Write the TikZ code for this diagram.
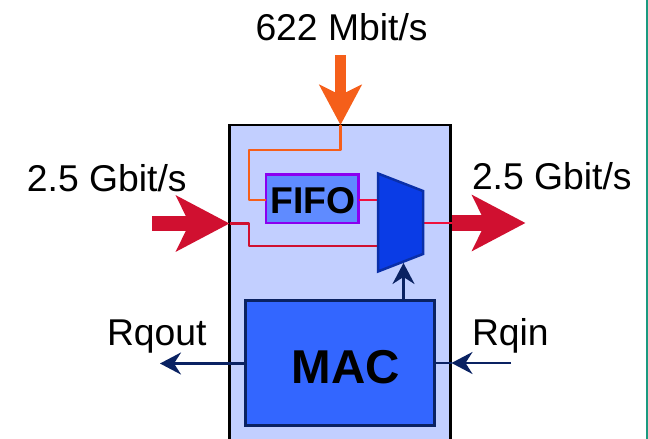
\documentclass[tikz,border=0pt]{standalone}
\usepackage{fontspec}
\setmainfont{Liberation Sans}
\usetikzlibrary{arrows.meta}
\definecolor{boxfill}{HTML}{C2CFFF}
\definecolor{fifofill}{HTML}{5F8BFF}
\definecolor{fifoedge}{HTML}{8B00F0}
\definecolor{muxfill}{HTML}{0A3CE6}
\definecolor{muxedge}{HTML}{0A2FA8}
\definecolor{macfill}{HTML}{3366FF}
\definecolor{navyline}{HTML}{0A2262}
\definecolor{orangeline}{HTML}{F55F1A}
\definecolor{redline}{HTML}{D01030}
\definecolor{brightred}{HTML}{F0103C}
\definecolor{tealline}{HTML}{1A9A80}
\tikzset{
  label37/.style={inner sep=0pt,outer sep=0pt,anchor=base west,font=\fontsize{37.3}{40}\selectfont},
  fatred/.style={draw=redline,line width=15.5pt,-{Stealth[length=53pt,width=55pt,inset=13pt]}},
  fatorange/.style={draw=orangeline,line width=11pt,-{Stealth[length=40pt,width=42pt,inset=10pt]}},
  thinnavy/.style={draw=navyline,line width=2.5pt,-{Stealth[length=21pt,width=22pt,inset=7pt]}},
  plainnavy/.style={draw=navyline,line width=2.5pt},
  orangewire/.style={draw=orangeline,line width=2.6pt,line join=round},
  redwire/.style={draw=redline,line width=2.6pt,line join=round},
  brightwire/.style={draw=brightred,line width=2.6pt},
}
\begin{document}
\begin{tikzpicture}[x=1pt,y=-1pt]
\useasboundingbox (0,0) rectangle (648,439);
\fill[white] (0,0) rectangle (648,439);
\clip (0,0) rectangle (648,439);
\draw[tealline,line width=2pt] (647,0) -- (647,439);
% outer block
\node[draw=black,fill=boxfill,line width=2.5pt,minimum width=221pt,minimum height=320pt,inner sep=0pt] (block) at (340,285) {};
% coordinates
\coordinate (topstart) at (340.5,55);
\coordinate (toptip) at (340.5,125);
\coordinate (leftstart) at (152,223.5);
\coordinate (lefttip) at (229.5,223.5);
\coordinate (rightstart) at (452,223);
\coordinate (righttip) at (525.5,223);
\coordinate (muxa) at (378,173.5);
\coordinate (muxb) at (423,191);
\coordinate (muxc) at (423,254);
\coordinate (muxd) at (378,271.5);
\coordinate (muxinA) at (378,200);
\coordinate (muxinB) at (378,246);
\coordinate (muxout) at (423,223);
\coordinate (muxctl) at (403.5,263);
\coordinate (fifoinO) at (266,200);
\coordinate (fifooutO) at (358.5,200);
\coordinate (macup) at (403.5,301);
\coordinate (macright) at (434.5,363);
\coordinate (macleft) at (245.5,363.5);
\coordinate (rqinstart) at (511,363);
\coordinate (rqintip) at (451.5,363);
\coordinate (rqouttip) at (160,363.5);
% blocks
\node[draw=fifoedge,fill=fifofill,line width=2.5pt,minimum width=92.5pt,minimum height=48.5pt,inner sep=0pt] (fifo) at (312.25,198.5) {};
\node[inner sep=0pt,anchor=base west,font=\fontsize{37.3}{40}\selectfont\bfseries] (fifotext) at (270.5,213) {FIFO};
\node[draw=navyline,fill=macfill,line width=2.5pt,minimum width=189pt,minimum height=125pt,inner sep=0pt] (mac) at (340,363) {};
\node[inner sep=0pt,anchor=base west,font=\fontsize{47.5}{50}\selectfont\bfseries] (mactext) at (291.5,383) {MAC};
% wires
\draw[orangewire] (toptip) -- (340.5,150) -- (249,150) -- (249,200) -- (fifoinO);
\draw[redwire] (lefttip) -- (249,223.5) -- (249,246) -- (muxinB);
\draw[brightwire] (fifooutO) -- (muxinA);
\draw[brightwire] (muxout) -- (block.east |- muxout);
% mux
\draw[draw=muxedge,fill=muxfill,line width=2.5pt,line join=miter] (muxa) -- (muxb) -- (muxc) -- (muxd) -- cycle;
% arrows
\draw[fatorange] (topstart) -- (toptip);
\draw[fatred] (leftstart) -- (lefttip);
\draw[fatred] (rightstart) -- (righttip);
\draw[thinnavy] (macup) -- (muxctl);
\draw[thinnavy] (rqinstart) -- (rqintip);
\draw[plainnavy] (rqintip) -- (macright);
\draw[thinnavy] (macleft) -- (rqouttip);
% labels
\node[label37] (t622) at (255.5,40) {622 Mbit/s};
\node[label37] (tleft) at (27,191) {2.5 Gbit/s};
\node[label37] (tright) at (472,189.5) {2.5 Gbit/s};
\node[label37] (trqout) at (107,345) {Rqout};
\node[label37] (trqin) at (472,345) {Rqin};
\end{tikzpicture}
\end{document}
